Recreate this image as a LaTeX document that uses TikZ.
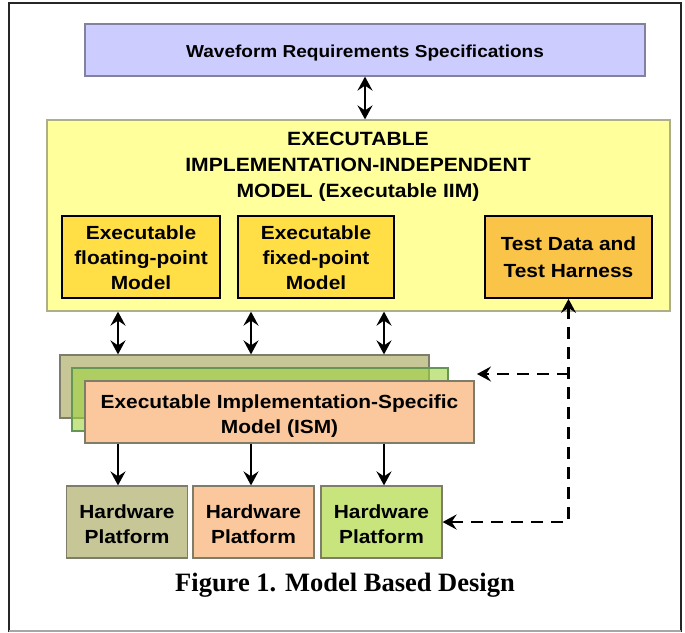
\documentclass[tikz,border=0pt]{standalone}
\usepackage{fontspec}
\setmainfont{Liberation Sans}[FakeStretch=1.1]
\newfontfamily\capfont{Liberation Serif}
\usetikzlibrary{arrows.meta}

\definecolor{specblue}{RGB}{204,204,255}
\definecolor{specedge}{RGB}{130,130,160}
\definecolor{iimyellow}{RGB}{255,255,155}
\definecolor{iimedge}{RGB}{175,175,135}
\definecolor{modelgold}{RGB}{255,222,70}
\definecolor{testorange}{RGB}{250,196,72}
\definecolor{khaki}{RGB}{198,198,150}
\definecolor{leafgreen}{RGB}{160,212,62}
\definecolor{hwgreen}{RGB}{200,228,124}
\definecolor{peach}{RGB}{250,200,156}
\definecolor{boxedge}{RGB}{125,125,105}

% centred lines of box text, drawn a little below the box centre
% (the reserved size stays the same, so the node is unchanged)
\newcommand\boxlines[2][3pt]{%
  \raisebox{-#1}[\height][\depth]{\begin{tabular}{@{}c@{}}#2\end{tabular}}}

\tikzset{
  box/.style={draw=boxedge, line width=1.2pt, inner sep=0pt,
    font=\bfseries\fontsize{19}{25}\selectfont},
  modelbox/.style={box, draw=black, line width=1.8pt},
  hwbox/.style={box, minimum width=121pt, minimum height=72pt},
  tip/.tip={Stealth[length=14pt,width=15pt,inset=5pt]},
  link/.style={line width=2.8pt, -tip},
  twoway/.style={line width=2.8pt, tip-tip},
  feedback/.style={line width=2.8pt, dash pattern=on 12pt off 8pt}
}

\begin{document}
\begin{tikzpicture}[x=1pt,y=-1pt]
\useasboundingbox (0,0) rectangle (685,632);

% page frame
\draw[black!85, line width=2pt] (9,632) -- (9,3) -- (681,3) -- (681,632);
\draw[black!35, line width=1.5pt] (9,631) -- (681,631);

% requirements
\node[box, draw=specedge, fill=specblue, minimum width=560pt, minimum height=52pt,
  font=\bfseries\fontsize{17.3}{22}\selectfont] (wave) at (365,50)
  {\boxlines[3pt]{Waveform Requirements Specifications}};

% implementation-independent model
\node[box, draw=iimedge, fill=iimyellow, minimum width=623pt, minimum height=191pt]
  (iim) at (358.5,215.5) {};
\node[align=center, inner sep=0pt, font=\bfseries\fontsize{19.2}{26}\selectfont]
  (iimtitle) at (358,167) {EXECUTABLE\\IMPLEMENTATION-INDEPENDENT\\MODEL (Executable IIM)};
\node[modelbox, fill=modelgold, minimum width=158pt, minimum height=82pt]
  (float) at (141,257) {\boxlines[2pt]{Executable\\floating-point\\Model}};
\node[modelbox, fill=modelgold, minimum width=156pt, minimum height=82pt]
  (fixed) at (316,257) {\boxlines[2pt]{Executable\\fixed-point\\Model}};
\node[modelbox, fill=testorange, minimum width=167pt, minimum height=82pt,
  font=\bfseries\fontsize{19}{27}\selectfont]
  (test) at (568.5,257) {\boxlines[2pt]{Test Data and\\Test Harness}};

% implementation-specific model stack
\node[box, fill=khaki, minimum width=369pt, minimum height=63pt] (ismback) at (244.5,386.5) {};
\node[box, draw=boxedge!80!green, fill=leafgreen, fill opacity=0.6,
  minimum width=376pt, minimum height=63pt] (ismmid) at (260,399.5) {};
\node[box, fill=peach, minimum width=389pt, minimum height=62pt]
  (ism) at (279.5,412) {\boxlines[3.5pt]{Executable Implementation-Specific\\Model (ISM)}};

% hardware platforms
\node[hwbox, fill=khaki] (hw1) at (127,522) {\boxlines[3.5pt]{Hardware\\Platform}};
\node[hwbox, fill=peach] (hw2) at (253.5,522) {\boxlines[3.5pt]{Hardware\\Platform}};
\node[hwbox, fill=hwgreen] (hw3) at (381.5,522) {\boxlines[3.5pt]{Hardware\\Platform}};

% caption
\node[font=\capfont\bfseries\fontsize{26.5}{30}\selectfont, inner sep=0pt]
  (caption) at (345,585) {Figure 1. Model Based Design};

% connectors
\draw[twoway] (wave.south) -- (wave.south |- iim.north);
\foreach \x in {118,251,384} {
  \draw[twoway] (\x,0 |- iim.south) -- (\x,0 |- ismback.north);
  \draw[link] (\x,0 |- ism.south) -- (\x,0 |- hw1.north);
}

% test feedback paths
\coordinate (tap) at (test.south |- 0,374);
\coordinate (stackin) at (477,374);
\draw[feedback, tip-tip] (test.south) |- (hw3.east);
\draw[feedback, -tip] (tap) -- (stackin);
\end{tikzpicture}
\end{document}
